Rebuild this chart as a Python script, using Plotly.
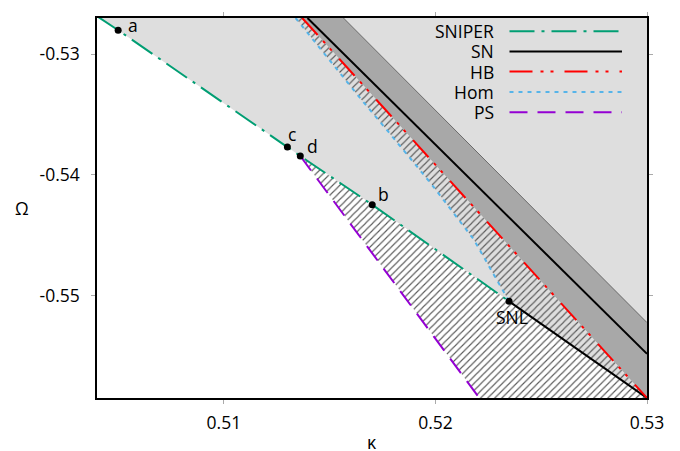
import plotly.graph_objects as go

# ---------------- data ----------------
k_range = [0.504, 0.53]
w_range = [-0.5585, -0.527]
x_tickvals = [0.51, 0.52, 0.53]
x_ticktext = ["0.51", "0.52", "0.53"]
y_tickvals = [-0.53, -0.54, -0.55]
y_ticktext = ["-0.53", "-0.54", "-0.55"]

sniper_k = [0.50400, 0.50500, 0.51300, 0.51361, 0.51701, 0.52348]
sniper_w = [-0.52685, -0.52801, -0.53770, -0.53844, -0.54248, -0.55049]

sn_up_k = [0.51395, 0.53000]
sn_up_w = [-0.52700, -0.55484]
sn_low_k = [0.52348, 0.53000]
sn_low_w = [-0.55049, -0.55850]

hb_k = [0.51370, 0.52055, 0.53000]
hb_w = [-0.52700, -0.54025, -0.55850]

hom_k = [0.51339, 0.51646, 0.51764, 0.51976, 0.52180, 0.52348]
hom_w = [-0.52700, -0.53369, -0.53615, -0.54066, -0.54533, -0.55049]

ps_k = [0.51361, 0.52216]
ps_w = [-0.53844, -0.55870]

# outer edge of the dark-grey band
band_k = [0.51565, 0.53000]
band_w = [-0.52700, -0.55225]

pt_names = ["a", "c", "d", "b", "SNL"]
pt_k = [0.50500, 0.51300, 0.51361, 0.51701, 0.52348]
pt_w = [-0.52801, -0.53770, -0.53844, -0.54248, -0.55049]

legend_names = ["SNIPER", "SN", "HB", "Hom", "PS"]

# ---------------- styles ----------------
FONT = "Open Sans"
FS = 17.5
C_LIGHT = "#dedede"
C_DARK = "#a8a8a8"
C_HATCH = "#5a5a5a"
green, red, blue, purple = "#009e73", "#ff0000", "#56b4e9", "#9400d3"
legend_colors = [green, "black", red, blue, purple]
legend_dash = ["25px,7px,3px,7px", "solid", "23px,8px,3px,7px,3px,11px", "4px,5px", "18px,10px"]
label_shift = {"a": (15, 5), "c": (5, 13), "d": (12, 10), "b": (11, 11), "SNL": (3, -16)}

fig = go.Figure()

# light grey region (above SNIPER / lower SN)
lx = sniper_k + sn_low_k[1:] + [k_range[1], k_range[0]]
ly = sniper_w + sn_low_w[1:] + [w_range[1], w_range[1]]
fig.add_trace(go.Scatter(x=lx, y=ly, fill="toself", fillcolor=C_LIGHT, mode="none",
                         hoverinfo="skip", showlegend=False))

# dark grey band between HB and its outer edge
dx = hb_k + band_k[::-1]
dy = hb_w + band_w[::-1]
fig.add_trace(go.Scatter(x=dx, y=dy, fill="toself", fillcolor=C_DARK, mode="none",
                         hoverinfo="skip", showlegend=False))

# hatched region on white (between PS and SNIPER / lower SN)
i_d = sniper_k.index(pt_k[2])
hx = sniper_k[i_d:] + sn_low_k[1:] + ps_k[::-1]
hy = sniper_w[i_d:] + sn_low_w[1:] + ps_w[::-1]
fig.add_trace(go.Scatter(x=hx, y=hy, fill="toself", mode="none", fillcolor="white",
                         fillpattern=dict(shape="/", size=5, solidity=0.22, fgcolor=C_HATCH,
                                          bgcolor="white", fillmode="replace"),
                         hoverinfo="skip", showlegend=False))

# hatched region on light grey (between Hom and HB)
gx = hom_k + sn_low_k[1:] + hb_k[::-1]
gy = hom_w + sn_low_w[1:] + hb_w[::-1]
fig.add_trace(go.Scatter(x=gx, y=gy, fill="toself", mode="none", fillcolor=C_LIGHT,
                         fillpattern=dict(shape="/", size=5, solidity=0.22, fgcolor=C_HATCH,
                                          bgcolor=C_LIGHT, fillmode="replace"),
                         hoverinfo="skip", showlegend=False))

# thin edge of dark band
fig.add_trace(go.Scatter(x=band_k, y=band_w, mode="lines", line=dict(color="#6a6a6a", width=1),
                         hoverinfo="skip", showlegend=False))

# bifurcation curves
def curve(k, w, color, dash, width=2):
    fig.add_trace(go.Scatter(x=k, y=w, mode="lines", line=dict(color=color, dash=dash, width=width),
                             hoverinfo="skip", showlegend=False))

curve(sn_up_k, sn_up_w, "black", "solid")
curve(sn_low_k, sn_low_w, "black", "solid")
curve(hb_k, hb_w, red, legend_dash[2])
curve(hom_k, hom_w, blue, legend_dash[3])
curve(ps_k, ps_w, purple, legend_dash[4])
curve(sniper_k, sniper_w, green, legend_dash[0])

# special points
fig.add_trace(go.Scatter(x=pt_k, y=pt_w, mode="markers",
                         marker=dict(color="black", size=7), hoverinfo="skip", showlegend=False))
for n, kk, ww in zip(pt_names, pt_k, pt_w):
    sx, sy = label_shift[n]
    fig.add_annotation(x=kk, y=ww, xref="x", yref="y", text=n, showarrow=False,
                       xanchor="center", yanchor="middle",
                       xshift=sx, yshift=sy,
                       font=dict(family=FONT, size=FS, color="black"))

# hand-made legend (text on the left of the sample)
row_y = [0.965, 0.912, 0.859, 0.805, 0.752]
for name, col, dsh, yy in zip(legend_names, legend_colors, legend_dash, row_y):
    fig.add_annotation(x=0.726, y=yy, xref="paper", yref="paper", text=name, showarrow=False,
                       xanchor="right", yanchor="middle",
                       font=dict(family=FONT, size=FS, color="black"))
    fig.add_shape(type="line", xref="paper", yref="paper", x0=0.750, x1=0.9545, y0=yy, y1=yy,
                  line=dict(color=col, width=2, dash=dsh))

# axis titles
fig.add_annotation(x=-0.137, y=0.5, xref="paper", yref="paper", text="Ω", showarrow=False,
                   xanchor="center", yanchor="middle", font=dict(family=FONT, size=FS, color="black"))
fig.add_annotation(x=0.5, y=-0.117, xref="paper", yref="paper", text="κ", showarrow=False,
                   xanchor="center", yanchor="middle", font=dict(family=FONT, size=FS, color="black"))

axis_common = dict(showline=True, linecolor="black", linewidth=1.5, mirror="allticks",
                   ticks="outside", ticklen=4, tickwidth=1, tickcolor="#aaaaaa",
                   showgrid=False, zeroline=False,
                   tickfont=dict(family=FONT, size=FS, color="black"))
fig.update_xaxes(range=k_range, tickvals=x_tickvals, ticktext=x_ticktext, ticklabelstandoff=4,
                 **axis_common)
fig.update_yaxes(range=w_range, tickvals=y_tickvals, ticktext=y_ticktext, ticklabelstandoff=8,
                 **axis_common)

fig.update_layout(width=680, height=451, margin=dict(l=97, r=33, t=13, b=53),
                  plot_bgcolor="white", paper_bgcolor="white", showlegend=False)

fig.write_html("out.html")
